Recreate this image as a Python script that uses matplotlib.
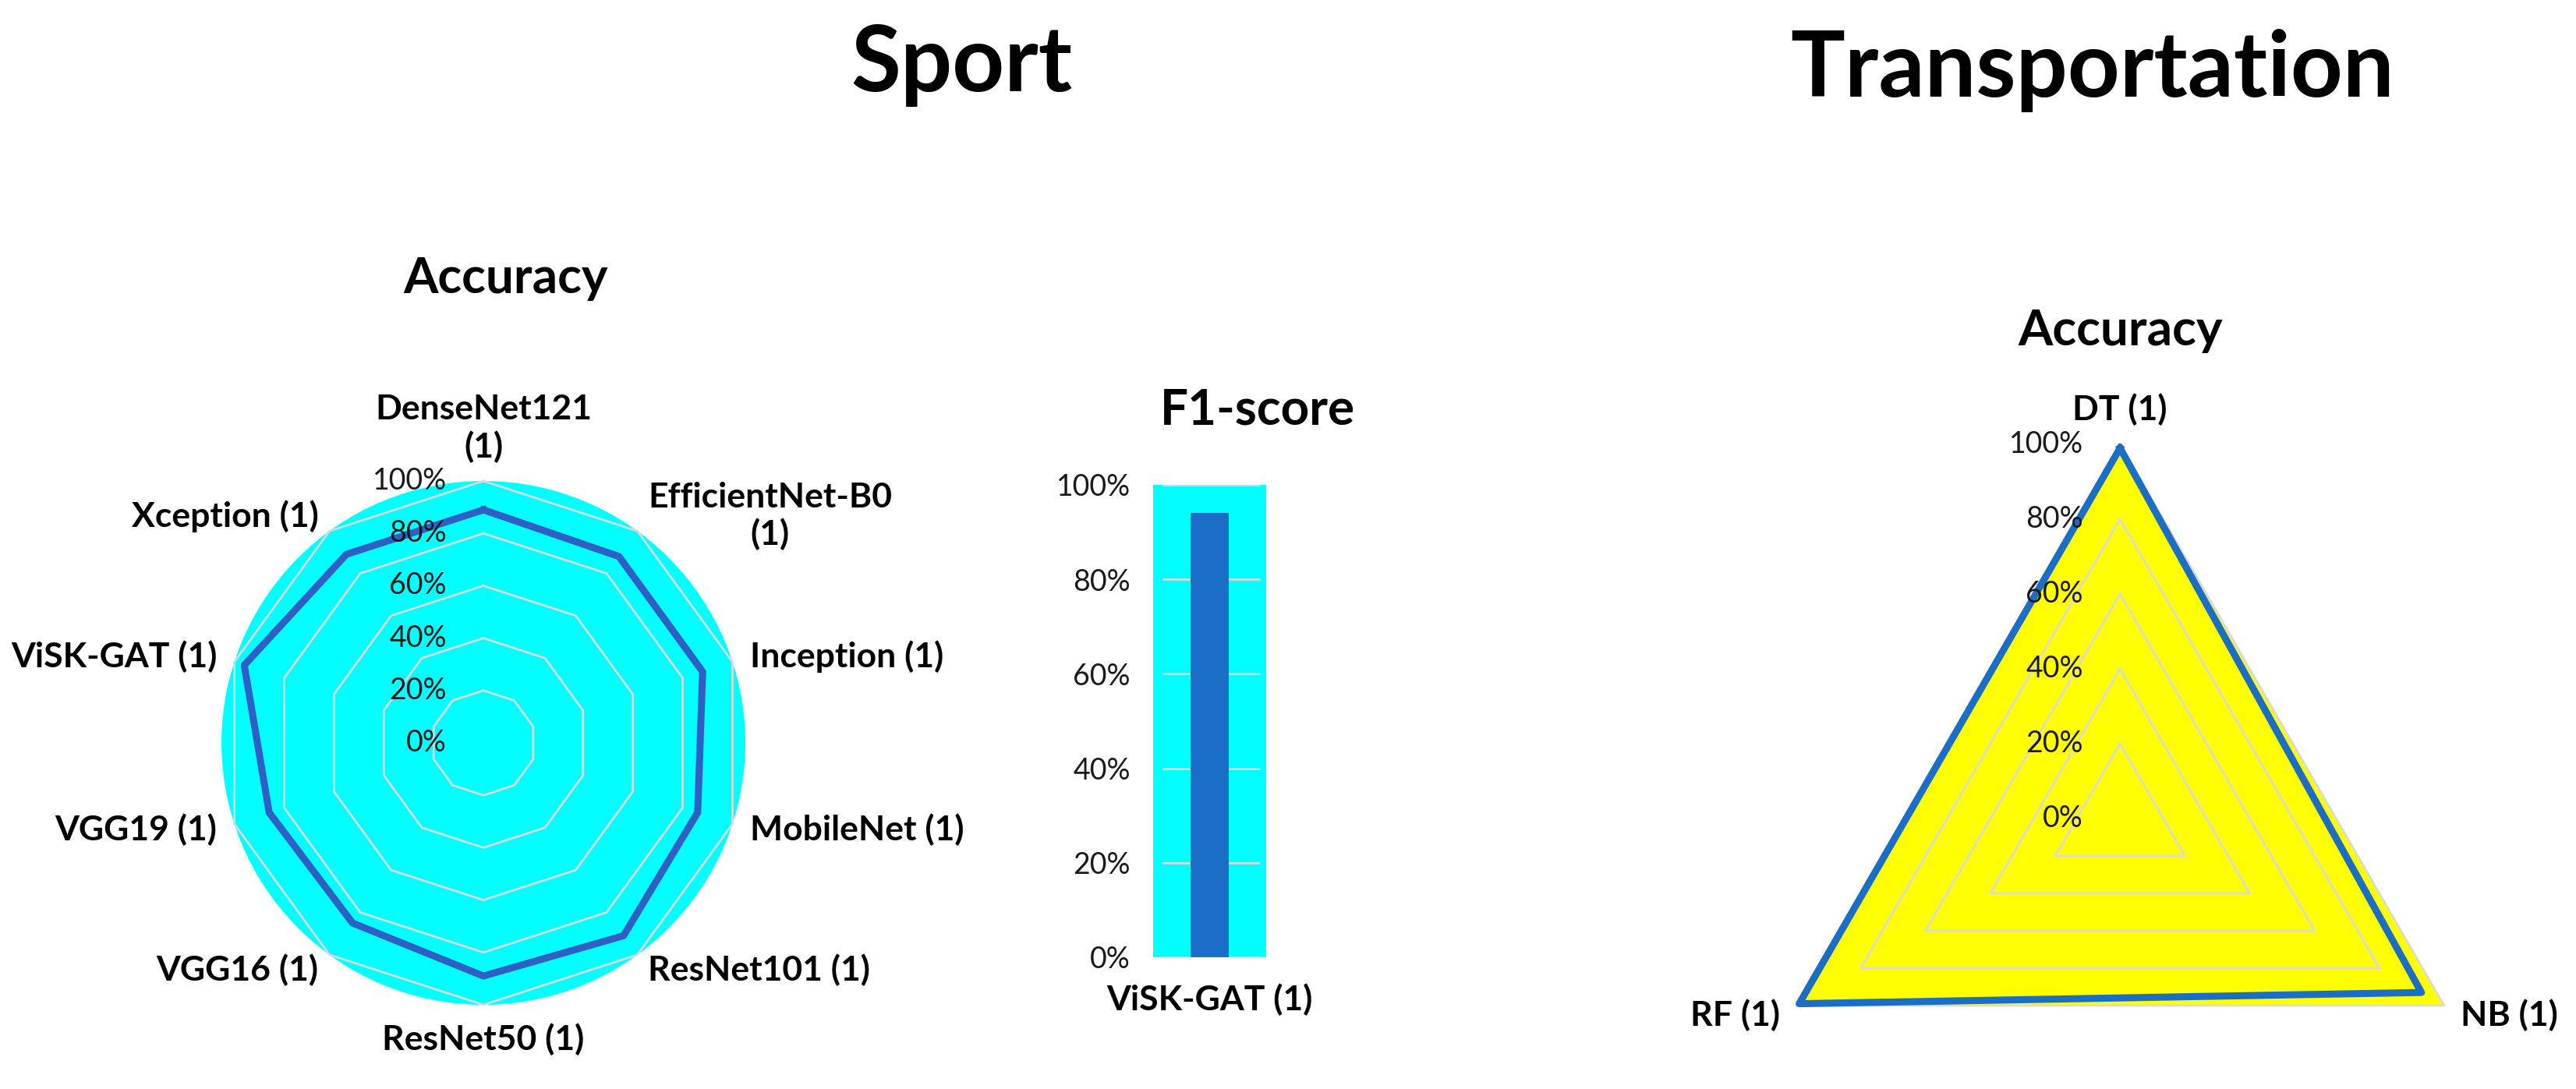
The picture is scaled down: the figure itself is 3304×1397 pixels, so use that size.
import numpy as np
import matplotlib
matplotlib.use('Agg')
import matplotlib.pyplot as plt

# values
sport_models = ['DenseNet121\n(1)', 'EfficientNet-B0\n(1)', 'Inception (1)', 'MobileNet (1)',
                'ResNet101 (1)', 'ResNet50 (1)', 'VGG16 (1)', 'VGG19 (1)', 'ViSK-GAT (1)', 'Xception (1)']
sport_acc = [0.89, 0.88, 0.88, 0.86, 0.91, 0.89, 0.85, 0.86, 0.96, 0.89]

f1_models = ['ViSK-GAT (1)']
f1_scores = [0.94]

trans_models = ['DT (1)', 'NB (1)', 'RF (1)']
trans_acc = [0.99, 0.93, 0.99]

ring_levels = [0.0, 0.2, 0.4, 0.6, 0.8, 1.0]
ring_labels = ['0%', '20%', '40%', '60%', '80%', '100%']

plt.rcParams['font.family'] = ['Lato', 'DejaVu Sans']
GRID = '#D9D9D9'
TICK_FS = 27
LAB_FS = 32
SUB_FS = 46


def draw_radar(ax, labels, values, line_color, poly_fill=None, lab_r=1.07):
    n = len(labels)
    theta = np.arange(n) * 2 * np.pi / n
    closed = np.append(theta, theta[0])
    ax.set_theta_zero_location('N')
    ax.set_theta_direction(-1)
    ax.set_ylim(0, 1)
    ax.set_xticks([])
    ax.set_yticks([])
    ax.grid(False)
    ax.spines['polar'].set_visible(False)
    if poly_fill is not None:
        ax.fill(closed, [1.0] * (n + 1), color=poly_fill, zorder=1, clip_on=False)
    for lv in ring_levels[1:]:
        ax.plot(closed, [lv] * (n + 1), color=GRID, lw=2, zorder=2, clip_on=False)
    ax.plot(closed, np.append(values, values[0]), color=line_color, lw=6.5,
            zorder=3, solid_joinstyle='round', clip_on=False)
    for lv, txt in zip(ring_levels, ring_labels):
        ax.annotate(txt, xy=(0, lv), xytext=(-34, 0), textcoords='offset points',
                    ha='right', va='center', fontsize=TICK_FS, color='#1a1a1a', zorder=4)
    for t, lab in zip(theta, labels):
        s = np.sin(t)
        c = np.cos(t)
        if s > 0.1:
            ha, va = 'left', 'center'
        elif s < -0.1:
            ha, va = 'right', 'center'
        else:
            ha = 'center'
            va = 'bottom' if c > 0 else 'top'
        ax.text(t, lab_r, lab, ha=ha, va=va, multialignment='center',
                fontsize=LAB_FS, fontweight='bold', color='black')


fig = plt.figure(figsize=(33.04, 13.97), dpi=100)

fig.text(0.3732, 0.9163, 'Sport', ha='center', va='baseline', fontsize=84, fontweight='bold')
fig.text(0.8123, 0.9112, 'Transportation', ha='center', va='baseline', fontsize=84, fontweight='bold')

# Sport: accuracy radar
ax1 = fig.add_axes([0.08596, 0.0773, 0.2034, 0.4810], projection='polar')
ax1.set_facecolor('#00FFFF')
draw_radar(ax1, sport_models, sport_acc, '#2F5EC6')
fig.text(0.1962, 0.7308, 'Accuracy', ha='center', va='baseline', fontsize=SUB_FS, fontweight='bold')

# Sport: F1-score bar
axb = fig.add_axes([0.4476, 0.121, 0.0439, 0.4338])
axb.set_facecolor('#00FFFF')
axb.hlines(ring_levels, -0.417, 0.445, color=GRID, lw=2, zorder=1)
axb.bar(range(len(f1_models)), f1_scores, width=0.34, color='#1B6EC8', zorder=2)
axb.set_xlim(-0.5, 0.5)
axb.set_ylim(0, 1)
axb.set_yticks(ring_levels, ring_labels)
axb.set_xticks(range(len(f1_models)), f1_models, fontweight='bold')
axb.tick_params(length=0, labelsize=TICK_FS, labelcolor='#1a1a1a')
axb.tick_params(axis='y', pad=21)
axb.tick_params(axis='x', pad=24, labelsize=LAB_FS, labelcolor='black')
for sp in axb.spines.values():
    sp.set_visible(False)
fig.text(0.4882, 0.6099, 'F1-score', ha='center', va='baseline', fontsize=SUB_FS, fontweight='bold')

# Transportation: accuracy radar
ax2 = fig.add_axes([0.6777, -0.0952, 0.2906, 0.6872], projection='polar')
ax2.patch.set_visible(False)
draw_radar(ax2, trans_models, trans_acc, '#1B6EC8', poly_fill='#FFFF00', lab_r=1.05)
fig.text(0.8230, 0.6829, 'Accuracy', ha='center', va='baseline', fontsize=SUB_FS, fontweight='bold')

fig.savefig('out.png', dpi=100)
